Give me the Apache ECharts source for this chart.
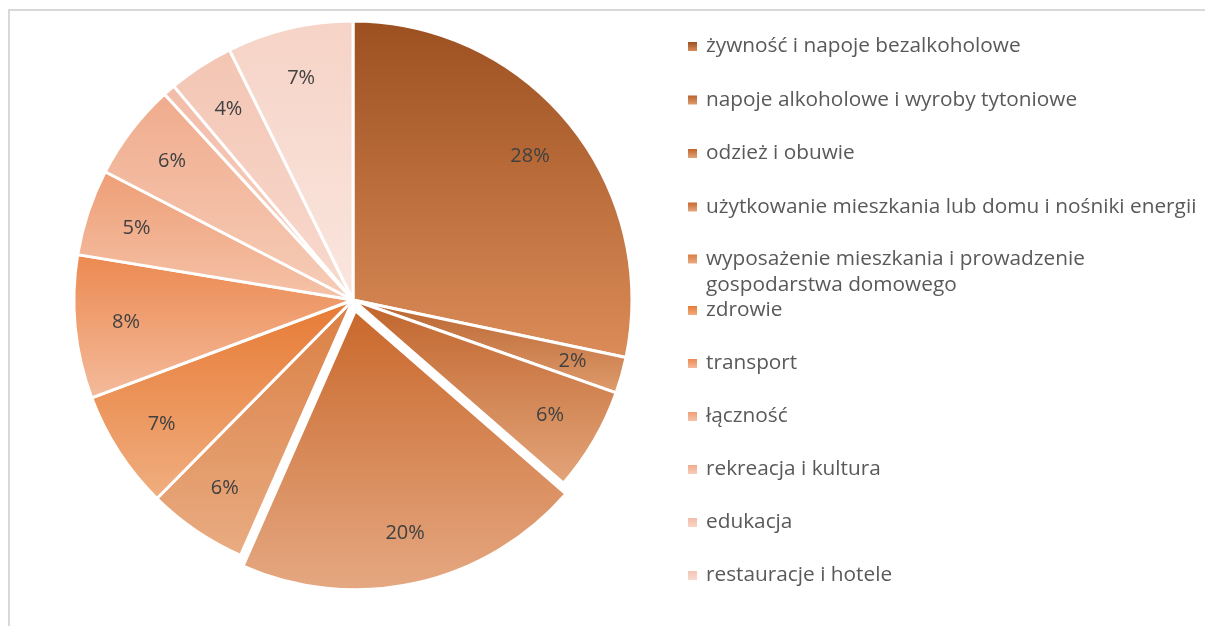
<!DOCTYPE html>
<html>
<head>
<meta charset="utf-8">
<script src="https://cdn.jsdelivr.net/npm/echarts@6/dist/echarts.min.js"></script>
<style>
  html, body { margin: 0; padding: 0; background: #fff; }
  #frame { position: absolute; left: 8px; top: 9px; width: 1300px; height: 700px;
           border-top: 2px solid #d9d9d9; border-left: 2px solid #d9d9d9; }
  #main { position: absolute; left: 0; top: 0; width: 1205px; height: 626px; }
</style>
</head>
<body>
<div id="frame"></div>
<div id="main"></div>
<script>
// struktura wydatków - kategorie
const categories = [
  'żywność i napoje bezalkoholowe',
  'napoje alkoholowe i wyroby tytoniowe',
  'odzież i obuwie',
  'użytkowanie mieszkania lub domu i nośniki energii',
  'wyposażenie mieszkania i prowadzenie gospodarstwa domowego',
  'zdrowie',
  'transport',
  'łączność',
  'rekreacja i kultura',
  'edukacja',
  'restauracje i hotele',
  'inne towary i usługi'
]
// udział w %
const shares = [28.3, 2.1, 6.0, 20.2, 5.8, 6.9, 8.3, 5.0, 5.6, 0.7, 3.8, 7.3]
// wysunięty wycinek
const explodedIndex = 3

// kolory gradientu (góra -> dół)
const topColors = ['#9c5020', '#b8632e', '#c0642c', '#c9682b', '#da7e42', '#e77a34',
  '#ec8950', '#ee9e76', '#f0ab8c', '#f2bca8', '#f3c5b3', '#f6d3c6']
const bottomColors = ['#db8c58', '#df9c6d', '#e3a57a', '#e5a882', '#e9ac82', '#f0ae80',
  '#f4bb9c', '#f5c3a9', '#f6cdb8', '#f7d4c6', '#f8dacf', '#fae6df']

const font = '"Open Sans", "Noto Sans", sans-serif'
const cx = 353
const cy = 300
const R = 279

function grad(i) {
  return new echarts.graphic.LinearGradient(0, 0, 0, 1, [
    { offset: 0, color: topColors[i] },
    { offset: 1, color: bottomColors[i] }
  ])
}

const chart = echarts.init(document.getElementById('main'))

const legendBase = {
  orient: 'vertical',
  left: 688,
  padding: 0,
  icon: 'rect',
  itemWidth: 9,
  itemHeight: 9,
  selectedMode: false,
  itemStyle: { borderWidth: 0 },
  textStyle: { fontFamily: font, fontSize: 20.8, color: '#595959', lineHeight: 20, padding: [0, 0, 0, 4] }
}

const option = {
  backgroundColor: 'transparent',
  animation: false,
  legend: [
    Object.assign({}, legendBase, { top: 36, itemGap: 32.5, data: categories.slice(0, 4) }),
    Object.assign({}, legendBase, {
      top: 220,
      data: categories.slice(4, 5),
      textStyle: Object.assign({}, legendBase.textStyle, { lineHeight: 26 }),
      formatter: name => '\n' + name.replace(' gospodarstwa', '\ngospodarstwa')
    }),
    Object.assign({}, legendBase, { top: 300, itemGap: 32, data: categories.slice(5, 11) })
  ],
  series: [
    {
      type: 'pie',
      center: [cx, cy],
      radius: R,
      startAngle: 90,
      clockwise: true,
      selectedMode: 'single',
      selectedOffset: 11,
      label: { show: false },
      labelLine: { show: false },
      emphasis: { disabled: true },
      itemStyle: { borderColor: '#fff', borderWidth: 3 },
      data: categories.map((name, i) => ({
        name: name,
        value: shares[i],
        selected: i === explodedIndex,
        itemStyle: { color: grad(i) }
      }))
    },
    {
      // warstwa z etykietami procentowymi
      type: 'pie',
      center: [cx, cy],
      radius: [171, R],
      startAngle: 90,
      clockwise: true,
      silent: true,
      selectedMode: 'single',
      selectedOffset: 11,
      avoidLabelOverlap: false,
      emphasis: { disabled: true },
      itemStyle: { color: 'transparent', borderWidth: 0 },
      labelLine: { show: false },
      label: {
        show: true,
        position: 'inside',
        fontFamily: font,
        fontSize: 20,
        color: '#404040',
        formatter: p => Math.round(p.percent) + '%'
      },
      data: categories.map((name, i) => ({
        name: name,
        value: shares[i],
        selected: i === explodedIndex
      }))
    }
  ]
}

chart.setOption(option)
</script>
</body>
</html>
